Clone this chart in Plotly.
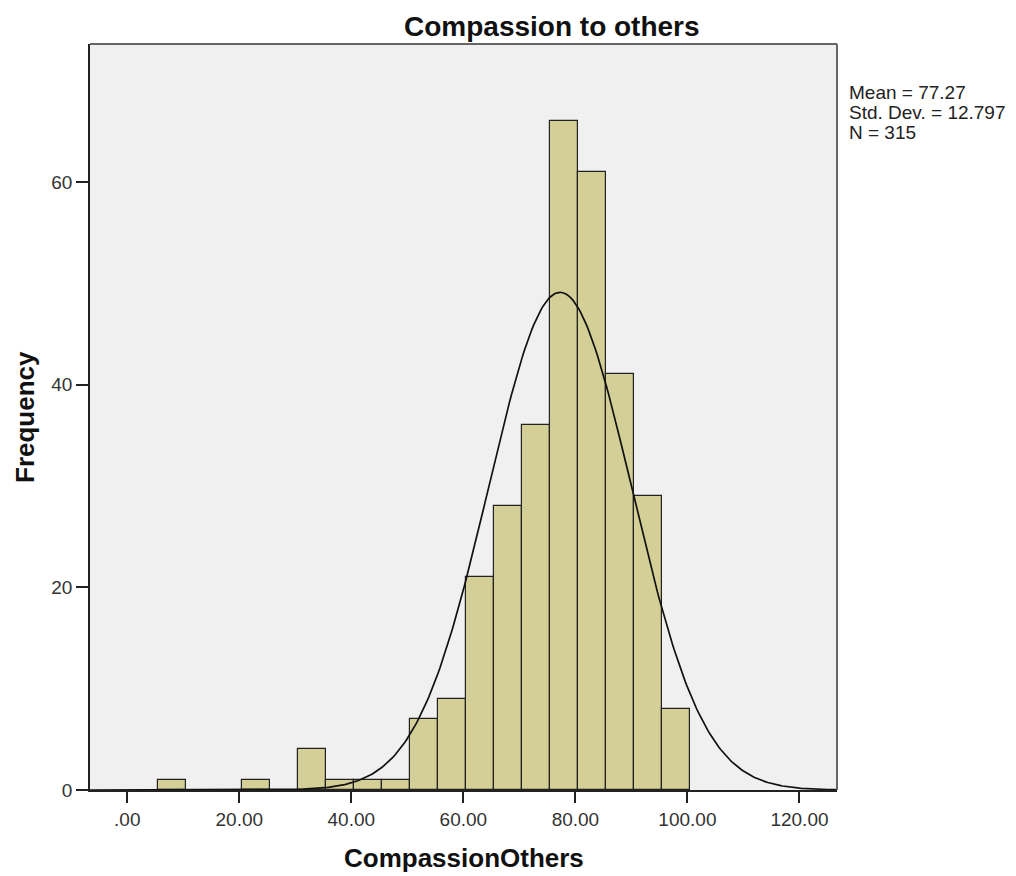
import numpy as np
import plotly.graph_objects as go

# Histogram bins (lower edges) and frequencies
bin_lower = [5.5, 20.5, 30.5, 35.5, 40.5, 45.5, 50.5, 55.5, 60.5, 65.5, 70.5, 75.5, 80.5, 85.5, 90.5, 95.5]
frequency = [1, 1, 4, 1, 1, 1, 7, 9, 21, 28, 36, 66, 61, 41, 29, 8]
bin_width = 5

mean_val = 77.27
std_val = 12.797
n_val = 315
stats_lines = [f"Mean = {mean_val}", f"Std. Dev. = {std_val}", f"N = {n_val}"]

x_tickvals = [0, 20, 40, 60, 80, 100, 120]
x_ticktext = [".00", "20.00", "40.00", "60.00", "80.00", "100.00", "120.00"]
y_tickvals = [0, 20, 40, 60]

x_range = [-6.65, 126.7]
y_range = [0, 73.6]

centers = [b + bin_width / 2 for b in bin_lower]

# Normal curve implied by the reported mean, SD and N
xc = np.linspace(x_range[0], x_range[1], 400)
yc = n_val * bin_width / (std_val * np.sqrt(2 * np.pi)) * np.exp(-0.5 * ((xc - mean_val) / std_val) ** 2)

fig = go.Figure()
fig.add_trace(go.Bar(
    x=centers, y=frequency, width=bin_width,
    marker=dict(color="#d3cf97", line=dict(color="#222222", width=1.2)),
    hoverinfo="x+y",
))
fig.add_trace(go.Scatter(
    x=xc, y=yc, mode="lines",
    line=dict(color="#111111", width=1.7),
    hoverinfo="skip",
))

font_family = "Liberation Sans, Arial, sans-serif"

fig.update_layout(
    width=1016, height=876,
    margin=dict(l=90, r=179, t=44, b=86),
    paper_bgcolor="white",
    plot_bgcolor="#f0f0f0",
    showlegend=False,
    bargap=0,
    font=dict(family=font_family, color="#222222"),
    xaxis=dict(
        range=x_range, tickvals=x_tickvals, ticktext=x_ticktext,
        ticks="outside", ticklen=11, tickwidth=2, tickcolor="#222222",
        showline=True, linecolor="#222222", linewidth=1.5, mirror=False,
        showgrid=False, zeroline=False,
        tickfont=dict(size=19, color="#333333", family=font_family),
    ),
    yaxis=dict(
        range=y_range, tickvals=y_tickvals,
        ticks="outside", ticklen=12, tickwidth=2, tickcolor="#222222",
        showline=True, linecolor="#222222", linewidth=1.5, mirror=False,
        showgrid=False, zeroline=False,
        tickfont=dict(size=19, color="#333333", family=font_family),
    ),
)

# top and right frame lines
fig.add_shape(type="line", xref="paper", yref="paper", x0=0, x1=1, y0=1, y1=1,
              line=dict(color="#666666", width=2))
fig.add_shape(type="line", xref="paper", yref="paper", x0=1, x1=1, y0=0, y1=1,
              line=dict(color="#666666", width=2))

# chart title
fig.add_annotation(
    text="<b>Compassion to others</b>", xref="paper", yref="paper",
    x=0.619, y=1.0, yshift=18, xanchor="center", yanchor="middle", showarrow=False,
    font=dict(size=28, color="#111111", family=font_family),
)
# axis titles
fig.add_annotation(
    text="<b>CompassionOthers</b>", xref="paper", yref="paper",
    x=0.5, y=0.0, yshift=-68, xanchor="center", yanchor="middle", showarrow=False,
    font=dict(size=26, color="#111111", family=font_family),
)
fig.add_annotation(
    text="<b>Frequency</b>", xref="paper", yref="paper",
    x=0.0, y=0.5, xshift=-65, xanchor="center", yanchor="middle", showarrow=False,
    textangle=-90,
    font=dict(size=26, color="#111111", family=font_family),
)
# statistics box
for i, line in enumerate(stats_lines):
    fig.add_annotation(
        text=line, xref="paper", yref="paper", x=1.0, y=1.0,
        xshift=10, yshift=-(48 + 20 * i), xanchor="left", yanchor="middle",
        align="left", showarrow=False,
        font=dict(size=19, color="#222222", family=font_family),
    )

fig.write_html("out.html")
